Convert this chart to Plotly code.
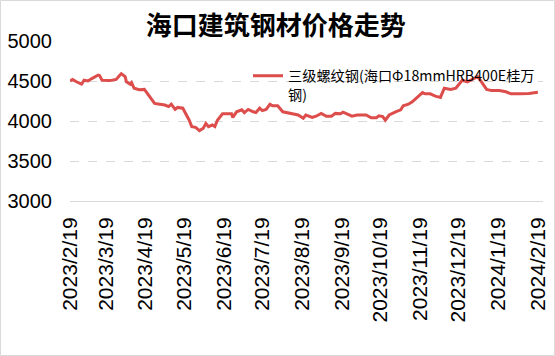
import plotly.graph_objects as go

dates = [
    "2023-02-19", "2023-02-21", "2023-02-24", "2023-02-28", "2023-03-02", "2023-03-05",
    "2023-03-08", "2023-03-10", "2023-03-13", "2023-03-14", "2023-03-16", "2023-03-22",
    "2023-03-27", "2023-03-30", "2023-03-31", "2023-04-03", "2023-04-04", "2023-04-07",
    "2023-04-08", "2023-04-10", "2023-04-14", "2023-04-18", "2023-04-21", "2023-04-26",
    "2023-04-30", "2023-05-04", "2023-05-07", "2023-05-09", "2023-05-12", "2023-05-14",
    "2023-05-18", "2023-05-21", "2023-05-23", "2023-05-25", "2023-05-28", "2023-05-31",
    "2023-06-03", "2023-06-05", "2023-06-07", "2023-06-10", "2023-06-12", "2023-06-14",
    "2023-06-18", "2023-06-25", "2023-06-26", "2023-06-29", "2023-07-03", "2023-07-05",
    "2023-07-08", "2023-07-12", "2023-07-14", "2023-07-17", "2023-07-19", "2023-07-22",
    "2023-07-25", "2023-07-27", "2023-07-31", "2023-08-04", "2023-08-09", "2023-08-16",
    "2023-08-20", "2023-08-22", "2023-08-27", "2023-08-30", "2023-09-03", "2023-09-07",
    "2023-09-11", "2023-09-14", "2023-09-18", "2023-09-20", "2023-09-23", "2023-09-27",
    "2023-10-01", "2023-10-08", "2023-10-12", "2023-10-16", "2023-10-18", "2023-10-21",
    "2023-10-23", "2023-10-26", "2023-10-31", "2023-11-04", "2023-11-06", "2023-11-10",
    "2023-11-13", "2023-11-16", "2023-11-18", "2023-11-21", "2023-11-23", "2023-11-27",
    "2023-12-01", "2023-12-05", "2023-12-08", "2023-12-13", "2023-12-17", "2023-12-19",
    "2023-12-22", "2023-12-26", "2023-12-30", "2024-01-03", "2024-01-06", "2024-01-10",
    "2024-01-14", "2024-01-20", "2024-01-25", "2024-01-29", "2024-02-05", "2024-02-12",
    "2024-02-19",
]
prices = [
    4500, 4520, 4490, 4460, 4510, 4500,
    4530, 4545, 4575, 4570, 4510, 4505,
    4520, 4575, 4590, 4555, 4490, 4460,
    4480, 4410, 4390, 4395, 4325, 4220,
    4210, 4200, 4180, 4210, 4145, 4170,
    4160, 4075, 4010, 3930, 3920, 3880,
    3910, 3970, 3930, 3950, 3930, 4010,
    4090, 4090, 4045, 4115, 4140, 4105,
    4145, 4115, 4105, 4160, 4130, 4145,
    4210, 4190, 4190, 4115, 4095, 4075,
    4035, 4075, 4045, 4060, 4095, 4060,
    4060, 4095, 4090, 4110, 4090, 4060,
    4075, 4075, 4040, 4040, 4065, 4055,
    4010, 4075, 4115, 4140, 4190, 4210,
    4240, 4280, 4310, 4355, 4340, 4340,
    4310, 4295, 4410, 4395, 4410, 4450,
    4510, 4490, 4520, 4555, 4490, 4395,
    4380, 4380, 4365, 4340, 4340, 4345,
    4360,
]
tick_dates = [
    "2023-02-19", "2023-03-19", "2023-04-19", "2023-05-19", "2023-06-19", "2023-07-19",
    "2023-08-19", "2023-09-19", "2023-10-19", "2023-11-19", "2023-12-19", "2024-01-19",
    "2024-02-19",
]
tick_labels = [
    "2023/2/19", "2023/3/19", "2023/4/19", "2023/5/19", "2023/6/19", "2023/7/19",
    "2023/8/19", "2023/9/19", "2023/10/19", "2023/11/19", "2023/12/19", "2024/1/19",
    "2024/2/19",
]
series_name = "三级螺纹钢(海口Φ18mmHRB400E桂万<br>钢)"
title_text = "海口建筑钢材价格走势"

W, H = 555, 356
ml, mr, mt, mb = 70, 12, 41, 155
pw, ph = W - ml - mr, H - mt - mb

fig = go.Figure()
fig.add_trace(go.Scatter(
    x=dates, y=prices, mode="lines", name=series_name,
    line=dict(color="#DC4D4B", width=3),
))

fig.update_layout(
    width=W, height=H,
    margin=dict(l=ml, r=mr, t=mt, b=mb, autoexpand=False),
    paper_bgcolor="white", plot_bgcolor="white",
    title=dict(text=title_text, x=0.497, xanchor="center", y=1 - 26 / H, yanchor="middle",
               font=dict(family="Noto Sans CJK SC", size=26, color="black", weight="bold")),
    showlegend=True,
    legend=dict(x=(248 - ml) / pw, y=(201 - 60) / ph, xanchor="left", yanchor="top",
                valign="top",
                bgcolor="rgba(0,0,0,0)", font=dict(family="Noto Sans CJK SC", size=14.2, color="black"),
                itemwidth=30, tracegroupgap=0),
    xaxis=dict(
        type="date", range=["2023-02-19", "2024-02-23"],
        tickvals=tick_dates, ticktext=tick_labels, tickangle=-90,
        tickfont=dict(family="Liberation Sans", size=21, color="black"),
        showgrid=False, showline=True, linecolor="#d9d9d9", linewidth=1,
        ticks="", ticklabelstandoff=7, zeroline=False,
    ),
    yaxis=dict(
        range=[3000, 5000], tickvals=[3000, 3500, 4000, 4500, 5000],
        tickfont=dict(family="Liberation Sans", size=20, color="black"),
        showgrid=True, gridcolor="#d9d9d9", griddash="dash", gridwidth=1,
        showline=False, zeroline=False, ticks="", ticklabelstandoff=17,
    ),
)

fig.add_shape(type="rect", xref="paper", yref="paper",
              x0=(0.5 - ml) / pw, x1=(W - 0.5 - ml) / pw,
              y0=(H - mb - (H - 0.5)) / ph, y1=(H - mb - 0.5) / ph,
              line=dict(color="#d9d9d9", width=1), fillcolor="rgba(0,0,0,0)", layer="below")

fig.write_html("out.html", config={"displayModeBar": False},
               post_script="document.body.style.margin='0';")
